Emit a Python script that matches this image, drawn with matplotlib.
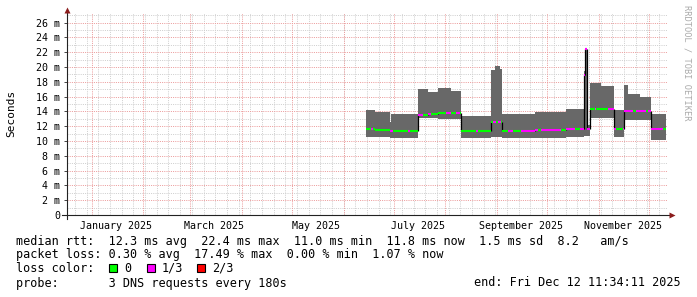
import matplotlib
matplotlib.use("Agg")
import matplotlib.pyplot as plt
import matplotlib.dates as mdates
from matplotlib.patches import Rectangle
import pandas as pd

# smoke segments (values in ms)
seg_start = ["2025-06-15", "2025-06-20", "2025-06-29", "2025-06-30", "2025-07-16",
             "2025-07-22", "2025-07-28", "2025-08-05", "2025-08-11", "2025-08-29",
             "2025-08-31", "2025-09-03", "2025-09-04 12:00", "2025-09-24", "2025-10-13",
             "2025-10-23 12:00", "2025-10-24 08:00", "2025-10-25 08:00", "2025-10-27",
             "2025-11-03", "2025-11-10 12:00", "2025-11-16 12:00", "2025-11-19",
             "2025-11-26", "2025-12-02 18:00"]
seg_end = seg_start[1:] + ["2025-12-11 12:00"]
smoke_hi = [14.2, 13.9, 12.6, 13.7, 17.0, 16.6, 17.2, 16.8, 13.4, 19.6,
            20.1, 19.7, 13.7, 13.9, 14.3, 19.5, 22.6, 12.2, 17.8, 17.4,
            14.2, 17.5, 16.3, 16.0, 13.6]
smoke_lo = [10.5, 10.5, 10.4, 10.4, 13.1, 13.1, 13.0, 13.0, 10.4, 10.5,
            10.5, 10.5, 10.4, 10.4, 10.6, 10.7, 10.7, 10.7, 13.1, 13.1,
            10.5, 12.9, 12.9, 12.9, 10.2]
median = [11.6, 11.5, 11.3, 11.4, 13.5, 13.6, 13.8, 13.8, 11.3, 12.6,
          12.6, 12.6, 11.4, 11.5, 11.6, 18.9, 22.4, 11.6, 14.3, 14.3,
          11.6, 14.1, 14.1, 14.1, 11.6]

# periods where the median was drawn in the 1/3 loss colour
loss_start = ["2025-06-18", "2025-06-29", "2025-07-10", "2025-07-16", "2025-07-22",
              "2025-08-02", "2025-08-08", "2025-08-20", "2025-08-30", "2025-09-02",
              "2025-09-08", "2025-09-16", "2025-09-28", "2025-10-13", "2025-10-21",
              "2025-10-30", "2025-11-07", "2025-11-16", "2025-11-24", "2025-12-01"]
loss_end = ["2025-06-19", "2025-07-01", "2025-07-11", "2025-07-19", "2025-07-24",
            "2025-08-05", "2025-08-10", "2025-08-21", "2025-09-01", "2025-09-04",
            "2025-09-11", "2025-09-26", "2025-10-10", "2025-10-18", "2025-10-27",
            "2025-10-31", "2025-11-12", "2025-11-22", "2025-11-30", "2025-12-10"]

y_ticks = list(range(0, 27, 2))
month_labels = ["January 2025", "March 2025", "May 2025", "July 2025",
                "September 2025", "November 2025"]
month_label_dates = ["2025-01-16", "2025-03-16", "2025-05-16", "2025-07-16",
                     "2025-09-16", "2025-11-16"]

legend_lines = [
    "median rtt:  12.3 ms avg  22.4 ms max  11.0 ms min  11.8 ms now  1.5 ms sd  8.2   am/s",
    "packet loss: 0.30 % avg  17.49 % max  0.00 % min  1.07 % now",
    "loss color:",
    "probe:       3 DNS requests every 180s",
]
loss_labels = ["0", "1/3", "2/3"]
loss_colors = ["#00ff00", "#ff00ff", "#ff0000"]
end_text = "end: Fri Dec 12 11:34:11 2025"

t_start = pd.Timestamp("2024-12-17 11:34:11")
t_end = pd.Timestamp("2025-12-12 11:34:11")
y_max = 27.36

W, H = 697, 297
MONO = "DejaVu Sans Mono"
plt.rcParams["font.family"] = MONO

fig = plt.figure(figsize=(W / 100, H / 100), dpi=100)
fig.patch.set_facecolor("white")


def fx(x):
    return x / W


def fy(y):
    return 1 - y / H


ax_l, ax_r, ax_t, ax_b = 66.7, 667.3, 12.5, 215.0
ax = fig.add_axes([fx(ax_l), fy(ax_b), (ax_r - ax_l) / W, (ax_b - ax_t) / H])
ax.set_xlim(mdates.date2num(t_start), mdates.date2num(t_end))
ax.set_ylim(0, y_max)
for s in ax.spines.values():
    s.set_visible(False)

dot = (0, (1, 1.2))
grid_kw = dict(lw=0.72, ls=dot, snap=True)
# minor grid
for d in pd.date_range(t_start, t_end, freq="W-SUN"):
    ax.axvline(mdates.date2num(d), color="#cfcfcf", zorder=0, **grid_kw)
for v in range(1, 28, 2):
    ax.axhline(v, color="#cfcfcf", zorder=0, **grid_kw)
# major grid
for d in pd.date_range(t_start, t_end, freq="MS"):
    ax.axvline(mdates.date2num(d), color="#ec9c9c", zorder=0.5, **grid_kw)
for v in y_ticks[1:]:
    ax.axhline(v, color="#ec9c9c", zorder=0.5, **grid_kw)

# smoke
xs, hi, lo = [], [], []
for a, b, h, l in zip(seg_start, seg_end, smoke_hi, smoke_lo):
    xs += [mdates.date2num(pd.Timestamp(a)), mdates.date2num(pd.Timestamp(b))]
    hi += [h, h]
    lo += [l, l]
ax.fill_between(xs, lo, hi, color="#686868", lw=0, zorder=2)

# median line: black steps, green base, magenta where 1/3 loss
sx = [mdates.date2num(pd.Timestamp(a)) for a in seg_start]
ex = [mdates.date2num(pd.Timestamp(b)) for b in seg_end]
for i in range(1, len(median)):
    if median[i] != median[i - 1]:
        ax.vlines(sx[i], min(median[i - 1], median[i]), max(median[i - 1], median[i]),
                  color="black", lw=0.9, zorder=3)
ax.hlines(median, sx, ex, color=loss_colors[0], lw=1.5, zorder=4)
for a, b in zip(loss_start, loss_end):
    la, lb = mdates.date2num(pd.Timestamp(a)), mdates.date2num(pd.Timestamp(b))
    for m, s0, e0 in zip(median, sx, ex):
        lo_x, hi_x = max(la, s0), min(lb, e0)
        if hi_x > lo_x:
            ax.hlines(m, lo_x, hi_x, color=loss_colors[1], lw=1.5, zorder=5)

# ticks and labels
ax.set_yticks(y_ticks)
ax.set_yticklabels([f"{v} m" if v else "0" for v in y_ticks], fontsize=7.2)
ax.tick_params(axis="y", length=2.2, width=0.7, color="#444444", pad=2.5)
ax.set_xticks([mdates.date2num(pd.Timestamp(d)) for d in month_label_dates])
ax.set_xticklabels(month_labels, fontsize=7.2)
ax.tick_params(axis="x", length=0, pad=4)

# axis lines with arrows
fig.add_artist(plt.Line2D([fx(62), fx(670)], [fy(ax_b), fy(ax_b)], color="#222222", lw=0.8))
fig.add_artist(plt.Line2D([fx(ax_l), fx(ax_l)], [fy(219), fy(11)], color="#222222", lw=0.8))
fig.add_artist(plt.Line2D([fx(671.5)], [fy(ax_b)], marker=">", ms=4.2, color="#8b1c1c", mec="none"))
fig.add_artist(plt.Line2D([fx(ax_l)], [fy(9.5)], marker="^", ms=4.2, color="#8b1c1c", mec="none"))

fig.text(fx(11), fy(113.5), "Seconds", rotation=90, ha="center", va="center", fontsize=8)
fig.text(fx(687), fy(5), "RRDTOOL / TOBI OETIKER", rotation=270, ha="center", va="top",
         fontsize=6.2, color="#aaaaaa")

# legend area
row_y = [241, 254.5, 268, 283]
for txt, y in zip(legend_lines, row_y):
    fig.text(fx(16), fy(y), txt, ha="left", va="center", fontsize=8.5)
fig.text(fx(681), fy(row_y[3]), end_text, ha="right", va="center", fontsize=8.5)

box_x = [109, 147, 197]
for bx, lab, col in zip(box_x, loss_labels, loss_colors):
    fig.add_artist(Rectangle((fx(bx), fy(272)), 8 / W, 8 / H, transform=fig.transFigure,
                             facecolor=col, edgecolor="black", lw=0.8))
    fig.text(fx(bx + 15), fy(row_y[2]), lab, ha="left", va="center", fontsize=8.5)

fig.savefig("out.png", dpi=100, facecolor="white")
